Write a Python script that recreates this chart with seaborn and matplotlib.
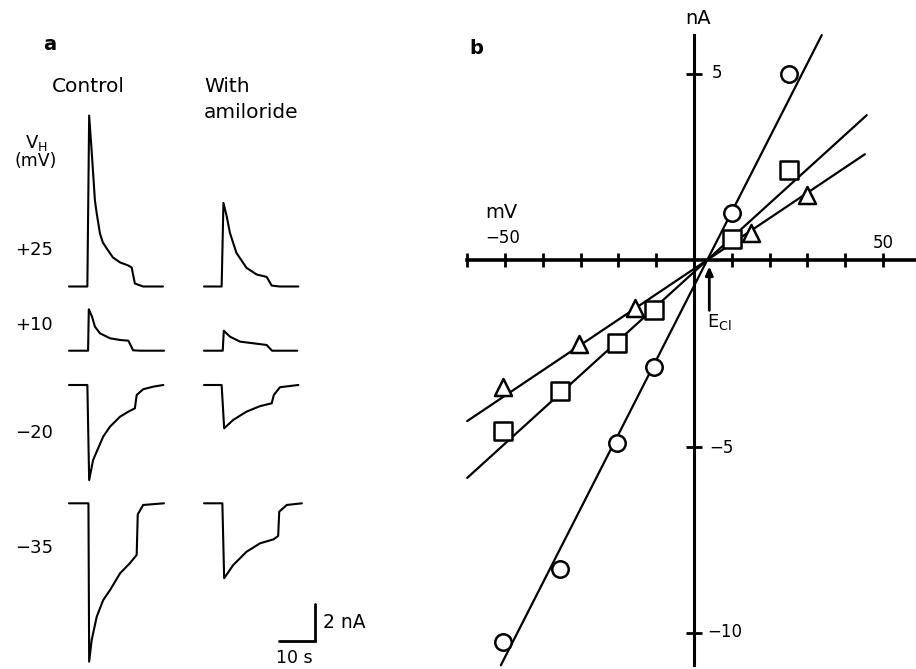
import matplotlib
matplotlib.use('Agg')  # no display

import matplotlib.pyplot as plt
import seaborn as sns
import numpy as np

# ---- panel a: whole-cell current traces (time in s from sweep start, current in nA)
ctrl_25_t = [0, 5.1, 5.6, 6.3, 7.2, 7.7, 8.6, 9.4, 10.5, 12.2, 14.2, 16.4, 17.4, 18.3, 20.6, 26.1]
ctrl_25_i = [0, 0, 9.24, 7.3, 4.65, 3.95, 2.86, 2.38, 2.05, 1.57, 1.30, 1.14, 1.03, 0.16, 0, 0]
amil_25_t = [0, 4.9, 5.4, 6.3, 7.2, 9.0, 11.8, 14.6, 17.4, 18.8, 21.0, 26.2]
amil_25_i = [0, 0, 4.52, 3.8, 2.9, 1.82, 1.01, 0.65, 0.52, 0.05, 0, 0]

ctrl_10_t = [0, 5.3, 5.5, 6.4, 7.2, 8.6, 11.4, 14.2, 16.5, 17.8, 20.0, 26.4]
ctrl_10_i = [0, 0, 2.24, 1.84, 1.30, 0.94, 0.67, 0.58, 0.54, 0.02, 0, 0]
amil_10_t = [0, 5.2, 5.5, 7.2, 10.0, 13.7, 17.4, 18.9, 25.9]
amil_10_i = [0, 0, 1.08, 0.76, 0.49, 0.40, 0.31, 0, 0]

ctrl_m20_t = [0, 5.1, 5.6, 6.7, 7.7, 9.5, 11.4, 14.2, 16.5, 18.3, 18.8, 20.6, 23.4, 26.2]
ctrl_m20_i = [0, 0, -5.14, -4.05, -3.6, -2.79, -2.25, -1.71, -1.44, -1.26, -0.54, -0.23, -0.09, 0]
amil_m20_t = [0, 4.9, 5.6, 8.1, 11.8, 15.6, 18.8, 19.4, 21.1, 26.2]
amil_m20_i = [0, 0, -2.34, -1.89, -1.44, -1.14, -0.99, -0.54, -0.12, 0]

ctrl_m35_t = [0, 5.4, 5.6, 6.3, 7.7, 9.5, 11.4, 14.2, 16.9, 18.8, 19.1, 20.6, 26.4]
ctrl_m35_i = [0, 0, -8.56, -7.39, -6.13, -5.23, -4.69, -3.78, -3.24, -2.79, -0.6, -0.09, 0]
amil_m35_t = [0, 5.1, 5.6, 8.1, 11.8, 15.6, 19.3, 20.6, 20.9, 23.0, 27.2]
amil_m35_i = [0, 0, -4.05, -3.34, -2.62, -2.16, -1.95, -1.77, -0.45, -0.09, 0]

vh_labels = ['+25', '+10', '\u221220', '\u221235']

# ---- panel b: I-V relation (mV, nA)
circle_v = [25, 10, -10.5, -20.5, -35.5, -50.5]
circle_i = [4.99, 1.25, -2.86, -4.90, -8.28, -10.25]
square_v = [25, 10, -10.5, -20.5, -35.5, -50.5]
square_i = [2.41, 0.55, -1.34, -2.22, -3.50, -4.58]
triangle_v = [30, 15, -15.5, -30.5, -50.5]
triangle_i = [1.74, 0.72, -1.29, -2.26, -3.41]

# slopes of the drawn lines (nA/mV) and common reversal potential (mV)
g_circle, g_square, g_triangle = 0.199, 0.092, 0.068
e_cl = 3.5

sns.set_style('ticks', {'axes.edgecolor': 'black', 'xtick.color': 'black',
                        'ytick.color': 'black', 'text.color': 'black'})
plt.rcParams['font.family'] = ['DejaVu Sans']

W, H = 916, 669
fig = plt.figure(figsize=(W / 100, H / 100), dpi=100)


def txt(x, y, s, size=14, ha='center', **kw):
    fig.text(x / W, 1 - y / H, s, fontsize=size, ha=ha, va='center', **kw)


# ---------------- panel a ----------------
ax_a = fig.add_axes([0, 0, 440 / W, 1])
ax_a.set_xlim(-69 / 3.6, (440 - 69) / 3.6)
ax_a.set_ylim(0, H / 18.5)
ax_a.axis('off')

rows = [
    (ctrl_25_t, ctrl_25_i, amil_25_t, amil_25_i),
    (ctrl_10_t, ctrl_10_i, amil_10_t, amil_10_i),
    (ctrl_m20_t, ctrl_m20_i, amil_m20_t, amil_m20_i),
    (ctrl_m35_t, ctrl_m35_i, amil_m35_t, amil_m35_i),
]
baseline_px = [286.5, 350.7, 385, 503.3]
label_px = [250, 325, 433, 548]
amil_shift = (204 - 69) / 3.6

for (ct, ci, at, ai), bpx, lpx, lab in zip(rows, baseline_px, label_px, vh_labels):
    base = (H - bpx) / 18.5
    sns.lineplot(x=np.array(ct), y=base + np.array(ci), ax=ax_a, color='black',
                 lw=1.5, sort=False, estimator=None)
    sns.lineplot(x=amil_shift + np.array(at), y=base + np.array(ai), ax=ax_a,
                 color='black', lw=1.5, sort=False, estimator=None)
    txt(34, lpx, lab, size=13)

# scale bar: 10 s, 2 nA
sb_y = (H - 641) / 18.5
ax_a.plot([58.3, 68.3, 68.3], [sb_y, sb_y, sb_y + 2], color='black', lw=2,
          solid_joinstyle='miter')
txt(323, 622, '2 nA', size=13.5, ha='left')
txt(294, 658, '10 s', size=12.5)

txt(50, 45, 'a', size=14, weight='bold')
txt(88, 86, 'Control', size=14.5)
txt(204, 86, 'With', size=14.5, ha='left')
txt(204, 112, 'amiloride', size=14.5, ha='left')
txt(36, 143, 'V$_\\mathregular{H}$', size=13)
txt(36, 161, '(mV)', size=12.5)

# ---------------- panel b ----------------
ax_b = fig.add_axes([440 / W, 0, 476 / W, 1])
x0, x1 = (440 - 694) / 3.78, (916 - 694) / 3.78
ax_b.set_xlim(x0, x1)
ax_b.set_ylim((260 - H) / 37.3, 260 / 37.3)
ax_b.patch.set_alpha(0)

for g, v, i, lo, hi, mk, s in [
    (g_circle, circle_v, circle_i, -51.1, 33.8, 'o', 140),
    (g_square, square_v, square_i, -60, 45.7, 's', 150),
    (g_triangle, triangle_v, triangle_i, -60, 45.2, '^', 150),
]:
    xs = np.array([lo, hi])
    sns.lineplot(x=xs, y=g * (xs - e_cl), ax=ax_b, color='black', lw=1.6,
                 sort=False, estimator=None)
    sns.scatterplot(x=v, y=i, ax=ax_b, marker=mk, s=s, facecolor='white',
                    edgecolor='black', linewidth=1.8, zorder=3)

for side in ['top', 'right']:
    ax_b.spines[side].set_visible(False)
ax_b.spines['left'].set_position(('data', 0))
ax_b.spines['bottom'].set_position(('data', 0))
ax_b.spines['left'].set_bounds(-10.86, 6.03)
ax_b.spines['bottom'].set_bounds(-60, x1)
ax_b.spines['left'].set_linewidth(2.2)
ax_b.spines['bottom'].set_linewidth(2.6)

ax_b.set_xticks(np.arange(-60, 51, 10))
ax_b.set_yticks([-10, -5, 5])
ax_b.tick_params(axis='x', direction='inout', length=10, width=2,
                 bottom=True, labelbottom=False)
ax_b.tick_params(axis='y', direction='inout', length=11, width=2,
                 left=True, labelleft=False)
ax_b.set_xlabel('')
ax_b.set_ylabel('')

ax_b.annotate('', xy=(4.05, -0.17), xytext=(4.05, -1.35),
              arrowprops=dict(arrowstyle='-|>,head_length=0.5,head_width=0.22',
                              lw=2, color='black', shrinkA=0, shrinkB=0))

txt(476, 49, 'b', size=14, weight='bold')
txt(698, 19, 'nA', size=14)
txt(501, 213, 'mV', size=14)
txt(503, 238, '\u221250', size=12)
txt(883, 243, '50', size=12)
txt(712, 73, '5', size=12, ha='left')
txt(709, 448, '\u22125', size=12, ha='left')
txt(707, 632, '\u221210', size=12, ha='left')
txt(719, 322, 'E$_\\mathregular{Cl}$', size=13)

fig.savefig('out.png', dpi=100)
plt.close(fig)
